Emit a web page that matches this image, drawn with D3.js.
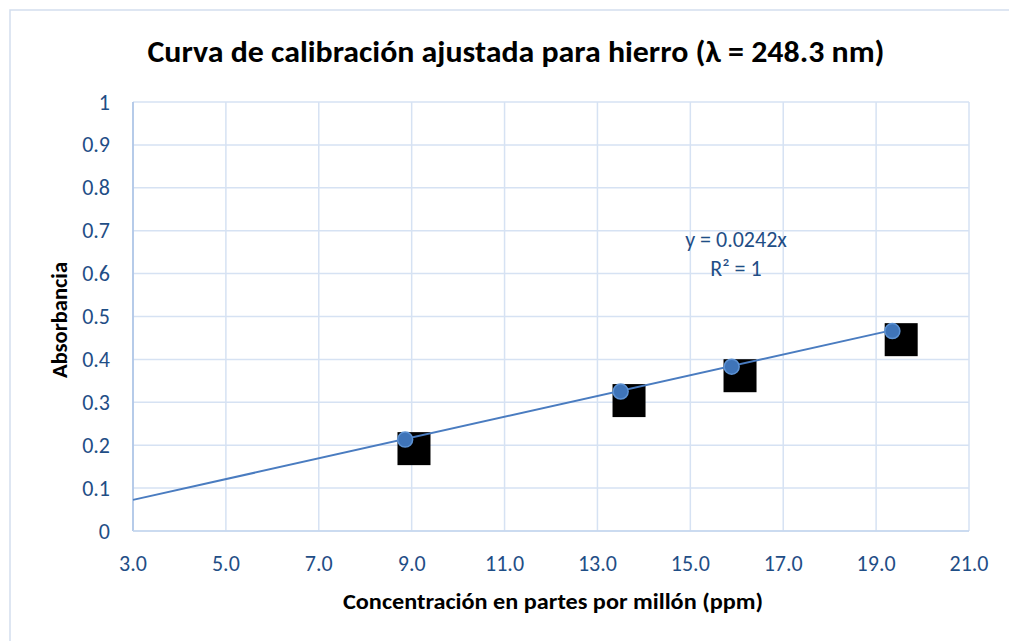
<!DOCTYPE html>
<html><head><meta charset="utf-8">
<script src="https://cdn.jsdelivr.net/npm/d3@7"></script>
<style>body{margin:0;background:#fff}svg{display:block}</style>
</head><body>
<svg id="c" width="1009" height="641"></svg>
<script>
const xTicks = [3,5,7,9,11,13,15,17,19,21];
const yTicks = [0,0.1,0.2,0.3,0.4,0.5,0.6,0.7,0.8,0.9,1];
const concX = [8.86, 13.5, 15.89, 19.35];
const absY = [0.213, 0.325, 0.383, 0.466];
const sqX = [9.05, 13.68, 16.07, 19.54];
const sqY = [0.192, 0.304, 0.362, 0.446];
const slope = 0.0242;
const titleText = "Curva de calibración ajustada para hierro (λ = 248.3 nm)";
const xTitle = "Concentración en partes por millón (ppm)";
const yTitle = "Absorbancia";
const eqLines = ["y = 0.0242x", "R² = 1"];

const svg = d3.select("#c");
const font = "Carlito, Lato, sans-serif";
const x = d3.scaleLinear().domain([3,21]).range([133,969]);
const y = d3.scaleLinear().domain([0,1]).range([531,102]);
const grid = "#d6e2f3";

svg.append("rect").attr("x",10).attr("y",10).attr("width",1100).attr("height",700)
  .attr("fill","#fff").attr("stroke","#d3deee").attr("stroke-width",1.5);

svg.append("text").attr("x",516).attr("y",62).attr("text-anchor","middle")
  .attr("font-family",font).attr("font-weight","bold").attr("font-size",31)
  .attr("textLength",737).attr("lengthAdjust","spacingAndGlyphs").attr("fill","#000").text(titleText);

// grid
svg.append("g").selectAll("line").data(yTicks).join("line")
  .attr("x1",x(3)).attr("x2",x(21)).attr("y1",d=>y(d)).attr("y2",d=>y(d))
  .attr("stroke",grid).attr("stroke-width",1.5);
svg.append("g").selectAll("line").data(xTicks).join("line")
  .attr("x1",d=>x(d)).attr("x2",d=>x(d)).attr("y1",y(0)).attr("y2",y(1))
  .attr("stroke",grid).attr("stroke-width",1.5);
// axis lines
svg.append("line").attr("x1",x(3)).attr("x2",x(3)).attr("y1",y(0)).attr("y2",y(1)).attr("stroke","#a9c1e4").attr("stroke-width",1.5);
svg.append("line").attr("x1",x(3)).attr("x2",x(21)).attr("y1",y(0)).attr("y2",y(0)).attr("stroke","#c5d6ee").attr("stroke-width",1.5);

// tick labels
const tickColor = "#1f4e86";
svg.append("g").selectAll("text").data(yTicks).join("text")
  .attr("x",110).attr("y",d=>y(d)+7.5).attr("text-anchor","end")
  .attr("font-family",font).attr("font-size",22).attr("fill",tickColor)
  .text(d=>d3.format("~g")(d));
svg.append("g").selectAll("text").data(xTicks).join("text")
  .attr("x",d=>x(d)).attr("y",571).attr("text-anchor","middle")
  .attr("font-family",font).attr("font-size",22).attr("fill",tickColor)
  .text(d=>d.toFixed(1));

// axis titles
svg.append("text").attr("x",553).attr("y",609).attr("text-anchor","middle")
  .attr("font-family",font).attr("font-weight","bold").attr("font-size",22)
  .attr("textLength",420).attr("lengthAdjust","spacingAndGlyphs").text(xTitle);
svg.append("text").attr("transform","translate(67,320) rotate(-90)").attr("text-anchor","middle")
  .attr("font-family",font).attr("font-weight","bold").attr("font-size",22)
  .attr("textLength",116).attr("lengthAdjust","spacingAndGlyphs").text(yTitle);

// black squares
svg.append("g").selectAll("rect").data(sqX.map((d,i)=>[d,sqY[i]])).join("rect")
  .attr("x",d=>x(d[0])-16.5).attr("y",d=>y(d[1])-16.5).attr("width",33).attr("height",33).attr("fill","#000");

// trendline
const xMax = d3.max(concX);
svg.append("line").attr("x1",x(3)).attr("y1",y(slope*3)).attr("x2",x(xMax)).attr("y2",y(slope*xMax))
  .attr("stroke","#4a7cc0").attr("stroke-width",2);

// points
svg.append("g").selectAll("circle").data(concX.map((d,i)=>[d,absY[i]])).join("circle")
  .attr("cx",d=>x(d[0])).attr("cy",d=>y(d[1])).attr("r",7.5)
  .attr("fill","#3f74b8").attr("stroke","#5d92d3").attr("stroke-width",1.5);

// equation
svg.append("g").selectAll("text").data(eqLines).join("text")
  .attr("x",736).attr("y",(d,i)=>247+i*29).attr("text-anchor","middle")
  .attr("font-family",font).attr("font-size",22).attr("fill",tickColor).text(d=>d);
</script>
</body></html>
